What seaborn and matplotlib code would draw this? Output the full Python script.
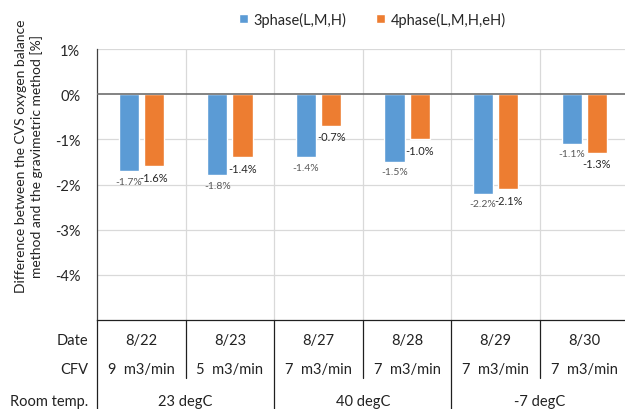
import numpy as np
import pandas as pd
import matplotlib
matplotlib.use("Agg")
import matplotlib.pyplot as plt
import seaborn as sns

### Data
dates = ["8/22", "8/23", "8/27", "8/28", "8/29", "8/30"]
cfv = ["9  m3/min", "5  m3/min", "7  m3/min", "7  m3/min", "7  m3/min", "7  m3/min"]
room_temp = ["23 degC", "40 degC", "-7 degC"]
series = ["3phase(L,M,H)", "4phase(L,M,H,eH)"]
phase3 = [-1.7, -1.8, -1.4, -1.5, -2.2, -1.1]
phase4 = [-1.6, -1.4, -0.7, -1.0, -2.1, -1.3]

df = pd.DataFrame({
    "date": dates * 2,
    "series": [series[0]] * len(dates) + [series[1]] * len(dates),
    "diff": phase3 + phase4,
})

sns.set_style("white")
plt.rcParams["font.family"] = ["Lato", "DejaVu Sans"]

colors = ["#5B9BD5", "#ED7D31"]
fig = plt.figure(figsize=(6.25, 4.1), dpi=100)
ax = fig.add_axes([0.1552, 0.217, 0.8506, 0.661])

sns.barplot(data=df, x="date", y="diff", hue="series", palette=colors,
            width=0.57, gap=0.2, ax=ax, legend=True, saturation=1)

ax.set_ylim(-5, 1)
ax.set_xlim(-0.5, len(dates) - 0.5)
ax.set_yticks([-4, -3, -2, -1, 0, 1])
ax.set_yticklabels([f"{v}%" for v in [-4, -3, -2, -1, 0, 1]], fontsize=10.5)
ax.tick_params(axis="y", length=0, pad=12)
ax.set_xticks([])
ax.set_xlabel("")
ax.set_ylabel("")
fig.text(29 / 625, 0.618,
         "Difference between the CVS oxygen balance\nmethod and the gravimetric method [%]",
         rotation=90, ha="center", va="center", fontsize=10, linespacing=1.3,
         color="#222222")

# gridlines
for y in [-4, -3, -2, -1, 1]:
    ax.axhline(y, color="#D9D9D9", lw=0.9, zorder=0)
for b in np.arange(0.5, len(dates) - 0.5):
    ax.axvline(b, color="#D9D9D9", lw=0.9, zorder=0)
ax.axhline(0, color="#6E6E6E", lw=1.2, zorder=3)

for s in ["top", "right"]:
    ax.spines[s].set_visible(False)
ax.spines["left"].set_color("#404040")
ax.spines["bottom"].set_color("#202020")
ax.spines["left"].set_linewidth(0.9)
ax.spines["bottom"].set_linewidth(0.9)

# data labels
lab_colors = ["#595959", "#262626"]
lab_sizes = [7.5, 8]
for cont, c, fs in zip(ax.containers, lab_colors, lab_sizes):
    ax.bar_label(cont, labels=[f"{v:.1f}%" for v in cont.datavalues],
                 padding=4, color=c, fontsize=fs)

# legend
h, l = ax.get_legend_handles_labels()
ax.legend(h, l, loc="center", bbox_to_anchor=(0.596, 0.951),
          bbox_transform=fig.transFigure, ncol=2, frameon=False,
          handlelength=0.65, handleheight=0.65, handletextpad=0.4,
          columnspacing=2.0, fontsize=10.5)

# category table under the plot
trans = ax.get_xaxis_transform()
row_y = [-0.074, -0.181, -0.299]
for name, y in zip(["Date", "CFV", "Room temp."], row_y):
    ax.text(-0.017, y, name, transform=ax.transAxes, ha="right", va="center",
            fontsize=10.5, color="#222222")
for i, (d, c) in enumerate(zip(dates, cfv)):
    ax.text(i, row_y[0], d, transform=trans, ha="center", va="center", fontsize=10.5, color="#222222")
    ax.text(i, row_y[1], c, transform=trans, ha="center", va="center", fontsize=10.5, color="#222222")
for j, t in enumerate(room_temp):
    ax.text(2 * j + 0.5, row_y[2], t, transform=trans, ha="center", va="center",
            fontsize=10.5, color="#222222")
for b in np.arange(-0.5, len(dates) - 0.5):
    full = int(round(b + 0.5)) % 2 == 0
    ax.plot([b, b], [0, -0.34 if full else -0.214], transform=trans, color="#202020",
            lw=0.9, clip_on=False)

fig.savefig("out.png", dpi=100)
